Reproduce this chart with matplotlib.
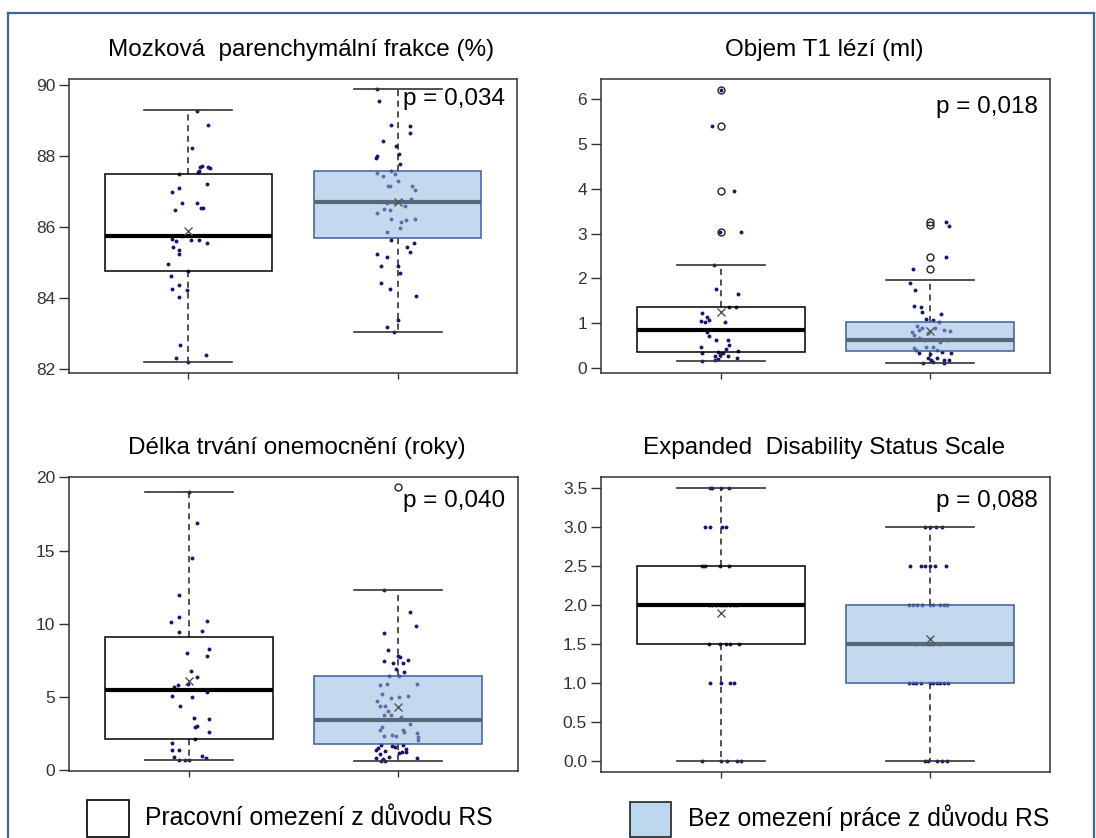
import matplotlib

matplotlib.use("Agg")
import matplotlib.pyplot as plt
from matplotlib.patches import Rectangle
from matplotlib.lines import Line2D

plt.rcParams["font.family"] = ["Liberation Sans", "DejaVu Sans"]

# --- data ------------------------------------------------------------------
titles = [
    "Mozková  parenchymální frakce (%)",
    "Objem T1 lézí (ml)",
    "Délka trvání onemocnění (roky)",
    "Expanded  Disability Status Scale",
]
p_labels = ["p = 0,034", "p = 0,018", "p = 0,040", "p = 0,088"]
legend_labels = ["Pracovní omezení z důvodu RS", "Bez omezení práce z důvodu RS"]

# box statistics: q1, median, q3, whisker low, whisker high, mean
bpf_work_stats = [84.77, 85.75, 87.50, 82.19, 89.30, 85.90]
bpf_free_stats = [85.70, 86.70, 87.58, 83.05, 89.89, 86.70]
t1_work_stats = [0.36, 0.86, 1.36, 0.15, 2.30, 1.24]
t1_free_stats = [0.39, 0.62, 1.03, 0.11, 1.97, 0.83]
dur_work_stats = [2.16, 5.51, 9.11, 0.68, 19.02, 6.08]
dur_free_stats = [1.82, 3.42, 6.42, 0.64, 12.30, 4.33]
edss_work_stats = [1.5, 2.0, 2.5, 0.0, 3.5, 1.90]
edss_free_stats = [1.0, 1.5, 2.0, 0.0, 3.0, 1.56]

t1_work_outliers = [6.21, 5.41, 3.96, 3.03]
t1_free_outliers = [3.27, 3.20, 2.47, 2.22]
dur_free_outliers = [19.36]

bpf_work_vals = [89.28, 88.87, 88.24, 87.73, 87.68, 87.68, 87.65, 87.50, 87.54, 87.59,
                 87.20, 87.09, 87.00, 86.68, 86.68, 86.49, 86.53, 86.53, 85.66, 85.62,
                 85.76, 85.64, 85.64, 85.55, 85.45, 85.36, 85.24, 84.96, 84.77, 84.63,
                 84.37, 84.25, 84.23, 84.02, 82.68, 82.41, 82.30, 82.19]
bpf_work_jit = [0.04, 0.095, 0.017, 0.065, 0.057, 0.095, 0.104, -0.044, 0.044, 0.052,
                0.089, -0.044, -0.077, -0.032, 0.04, -0.064, 0.062, 0.072, -0.079, -0.057,
                -0.028, 0.012, 0.052, 0.087, -0.075, -0.044, -0.044, -0.095, 0.0, -0.084,
                -0.044, -0.077, -0.005, -0.044, -0.039, 0.084, -0.057, 0.0]
bpf_free_vals = [89.89, 89.56, 88.87, 88.84, 88.65, 88.43, 88.29, 88.05, 88.01, 87.95,
                 87.79, 87.59, 87.52, 87.45, 87.50, 87.29, 87.16, 87.15, 87.16, 87.05,
                 86.79, 86.69, 86.69, 86.74, 86.60, 86.51, 86.48, 86.41, 86.23, 86.15,
                 86.20, 86.24, 85.85, 85.96, 85.64, 85.54, 85.44, 85.29, 85.24, 85.17,
                 84.91, 84.91, 84.72, 84.42, 84.25, 84.07, 83.39, 83.19, 83.05]
bpf_free_jit = [-0.1, -0.089, -0.03, 0.057, 0.057, -0.07, -0.008, 0.007, -0.097, -0.102,
                0.012, -0.03, -0.1, -0.072, -0.013, 0.003, -0.047, -0.037, 0.07, 0.084,
                0.062, -0.05, -0.013, 0.023, 0.037, -0.067, -0.039, -0.097, -0.03, 0.015,
                0.04, 0.084, -0.05, 0.013, -0.03, 0.079, 0.045, 0.057, -0.097, -0.05,
                -0.08, 0.003, 0.012, -0.08, -0.039, 0.087, 0.003, -0.05, -0.018]

t1_work_vals = [6.21, 5.41, 3.96, 3.03, 3.03, 2.30, 1.76, 1.65, 1.36, 1.36,
                1.23, 1.15, 1.06, 1.03, 1.08, 1.03, 0.80, 0.71, 0.62, 0.62,
                0.52, 0.47, 0.43, 0.33, 0.36, 0.33, 0.37, 0.30, 0.26, 0.26,
                0.22, 0.19, 0.20, 0.15]
t1_work_jit = [0.003, -0.042, 0.065, -0.005, 0.097, -0.03, -0.022, 0.084, 0.042, 0.074,
               -0.089, -0.064, -0.095, -0.072, -0.055, 0.02, -0.064, -0.055, -0.022, 0.037,
               0.04, -0.094, 0.028, -0.089, -0.013, 0.012, 0.084, -0.005, -0.025, 0.037,
               0.079, -0.027, -0.012, -0.089]
t1_free_vals = [3.27, 3.18, 2.47, 2.22, 1.90, 1.75, 1.39, 1.36, 1.26, 1.21,
                1.09, 1.08, 0.94, 0.89, 1.02, 0.80, 0.74, 0.84, 0.78, 0.89,
                0.86, 0.82, 0.67, 0.65, 0.63, 0.59, 0.62, 0.45, 0.41, 0.48,
                0.47, 0.41, 0.33, 0.32, 0.35, 0.33, 0.22, 0.19, 0.22, 0.17,
                0.19, 0.11, 0.13, 0.11]
t1_free_jit = [0.075, 0.089, 0.072, -0.084, -0.095, -0.074, -0.079, -0.045, -0.04, 0.05,
               -0.02, 0.013, -0.062, -0.04, 0.039, -0.087, -0.079, -0.054, -0.012, 0.022,
               0.064, 0.094, -0.054, -0.045, -0.028, 0.047, 0.08, -0.079, -0.07, -0.02,
               0.013, 0.03, -0.054, -0.003, 0.055, 0.097, -0.012, 0.005, 0.03, 0.064,
               0.089, -0.037, 0.013, 0.064]

dur_work_vals = [19.02, 16.90, 14.46, 11.96, 10.48, 10.14, 10.21, 9.41, 9.50, 8.31,
                 8.02, 7.79, 6.79, 6.38, 5.92, 5.81, 5.69, 5.06, 5.01, 5.35,
                 4.37, 3.60, 3.53, 2.92, 3.01, 2.62, 2.16, 1.89, 1.37, 1.41,
                 0.91, 0.96, 0.87, 0.68, 0.73, 0.68]
dur_work_jit = [0.0, 0.04, 0.017, -0.044, -0.044, -0.085, 0.09, -0.044, 0.062, 0.099,
                -0.007, 0.089, 0.012, 0.04, -0.002, -0.052, -0.069, -0.077, 0.017, 0.09,
                -0.039, 0.028, 0.095, 0.032, 0.04, 0.095, 0.032, -0.079, -0.079, -0.044,
                -0.069, 0.065, 0.085, -0.044, -0.018, 0.0]
dur_free_vals = [12.30, 10.82, 9.84, 9.34, 8.20, 7.79, 7.70, 7.47, 7.33, 7.33,
                 7.56, 6.88, 6.72, 6.42, 6.42, 5.85, 5.92, 5.88, 5.19, 5.06,
                 4.94, 4.97, 4.72, 4.37, 4.37, 4.05, 3.76, 3.76, 3.64, 3.19,
                 2.92, 2.73, 2.73, 2.62, 2.39, 2.32, 2.32, 2.51, 2.28, 2.05,
                 1.71, 1.53, 1.64, 1.59, 1.71, 1.48, 1.37, 1.32, 1.18, 1.25,
                 1.25, 1.09, 0.87, 0.80, 0.91, 0.87, 0.64, 0.64]
dur_free_jit = [-0.067, 0.057, 0.084, -0.067, -0.05, 0.0, 0.007, -0.067, -0.025, 0.02,
                0.045, -0.013, 0.028, -0.047, 0.003, -0.089, -0.055, 0.087, -0.08, 0.045,
                -0.034, 0.003, -0.1, -0.064, -0.089, -0.05, -0.067, -0.034, 0.012, 0.054,
                -0.08, -0.089, 0.02, 0.028, -0.03, -0.067, -0.013, 0.087, 0.095, 0.095,
                -0.084, -0.097, -0.03, -0.017, 0.023, 0.034, -0.106, -0.064, 0.003, 0.017,
                0.037, -0.089, -0.106, -0.072, -0.047, 0.087, -0.084, -0.064]

edss_work_vals = [3.5, 3.5, 3.5, 3.5, 3.0, 3.0, 3.0, 3.0, 2.5, 2.5, 2.5, 2.5,
                  2.0, 2.0, 2.0, 2.0, 2.0, 2.0, 2.0, 2.0, 2.0,
                  1.5, 1.5, 1.5, 1.5, 1.5, 1.0, 1.0, 1.0, 1.0,
                  0.0, 0.0, 0.0, 0.0, 0.0]
edss_work_jit = [-0.052, -0.039, 0.003, 0.042, -0.072, -0.052, 0.007, 0.025,
                 -0.089, -0.075, -0.005, 0.042,
                 -0.055, -0.039, -0.022, -0.005, 0.012, 0.028, 0.045, 0.062, 0.079,
                 -0.055, -0.005, 0.028, 0.045, 0.087, -0.052, 0.003, 0.045, 0.065,
                 -0.089, 0.003, 0.032, 0.079, 0.095]
edss_free_vals = [3.0, 3.0, 3.0, 3.0, 2.5, 2.5, 2.5, 2.5, 2.5, 2.5,
                  2.0, 2.0, 2.0, 2.0, 2.0, 2.0, 2.0, 2.0, 2.0,
                  1.5, 1.5, 1.5, 1.5, 1.5, 1.5,
                  1.0, 1.0, 1.0, 1.0, 1.0, 1.0, 1.0, 1.0, 1.0, 1.0,
                  0.0, 0.0, 0.0, 0.0, 0.0]
edss_free_jit = [-0.028, 0.0, 0.027, 0.055, -0.095, -0.045, -0.028, 0.0, 0.022, 0.072,
                 -0.1, -0.084, -0.062, -0.04, 0.0, 0.013, 0.047, 0.064, 0.077,
                 -0.07, -0.037, -0.012, 0.0, 0.013, 0.039,
                 -0.1, -0.084, -0.07, -0.045, 0.0, 0.013, 0.03, 0.047, 0.064, 0.084,
                 -0.028, -0.012, 0.03, 0.055, 0.08]

y_limits = [(81.89, 90.17), (-0.11, 6.45), (-0.05, 20.02), (-0.14, 3.64)]
y_ticks = [[82, 84, 86, 88, 90], [0, 1, 2, 3, 4, 5, 6], [0, 5, 10, 15, 20],
           [0.0, 0.5, 1.0, 1.5, 2.0, 2.5, 3.0, 3.5]]
y_ticklabels = [None, None, None, ["0.0", "0.5", "1.0", "1.5", "2.0", "2.5", "3.0", "3.5"]]

# --- styling ---------------------------------------------------------------
POINT_COLOR = "#16166e"
FREE_FACE = "#96bae0"  # drawn at alpha 0.55 -> looks like #c5d9ee over white
FREE_EDGE = "#3e5c9c"
FREE_MEDIAN = "#56687a"
AXIS_COLOR = "#333333"


def make_stats(values, label):
    q1, med, q3, lo, hi, mean = values
    return {"q1": q1, "med": med, "q3": q3, "whislo": lo, "whishi": hi,
            "mean": mean, "fliers": [], "label": label}


def draw_panel(ax, work_stats, free_stats, work_pts, free_pts, outliers, idx):
    # raw points first so the blue box sits on top of them
    for pos, (vals, jit) in zip([1, 2], [work_pts, free_pts]):
        ax.plot([pos + j for j in jit], vals, "o", ms=2.8, color=POINT_COLOR,
                mec="none", zorder=2)

    common = dict(
        widths=0.8, capwidths=0.42, showmeans=True, patch_artist=True,
        whiskerprops=dict(color="#222222", lw=1.1, linestyle=(0, (4, 3))),
        capprops=dict(color="#333333", lw=1.2),
        meanprops=dict(marker="x", markersize=6, mec="#555555", mew=1.0),
    )
    b1 = ax.bxp([make_stats(work_stats, "")], positions=[1], **common,
                boxprops=dict(facecolor="none", edgecolor="black", lw=1.1),
                medianprops=dict(color="black", lw=3.0))
    b2 = ax.bxp([make_stats(free_stats, "")], positions=[2], **common,
                boxprops=dict(facecolor=FREE_FACE, edgecolor=FREE_EDGE, lw=1.1),
                medianprops=dict(color=FREE_MEDIAN, lw=3.0))
    b2["boxes"][0].set_facecolor((0x96 / 255, 0xBA / 255, 0xE0 / 255, 0.55))
    for b in (b1, b2):
        for art in b["boxes"]:
            art.set_zorder(3)
        for art in b["medians"] + b["means"]:
            art.set_zorder(4)

    for pos, outs in zip([1, 2], outliers):
        if outs:
            ax.plot([pos] * len(outs), outs, "o", ms=5, mfc="none", mec="#222222",
                    mew=1.0, zorder=5)

    ax.set_xlim(0.43, 2.57)
    ax.set_ylim(*y_limits[idx])
    ax.set_yticks(y_ticks[idx])
    if y_ticklabels[idx] is not None:
        ax.set_yticklabels(y_ticklabels[idx])
    ax.set_xticks([1, 2])
    ax.set_xticklabels(["", ""])
    ax.tick_params(axis="y", length=7, width=1.0, pad=3, labelsize=12.5,
                   colors=AXIS_COLOR)
    ax.tick_params(axis="x", length=4, width=1.0, colors=AXIS_COLOR)
    for spine in ax.spines.values():
        spine.set_color(AXIS_COLOR)
        spine.set_linewidth(1.1)


fig = plt.figure(figsize=(10.96, 8.38), dpi=100)
W, H = 1096, 838

# panel frames in pixel coordinates: left, top, right, bottom
frames = [(69, 79, 517, 373), (601, 79, 1050, 373),
          (69, 477, 518, 771), (601, 477, 1050, 772)]
title_pos = [(301, 50), (824, 50), (297, 448), (824, 448)]
p_pos = [(505, 99), (1038, 107), (505, 501), (1038, 501)]

panels = [
    (bpf_work_stats, bpf_free_stats, (bpf_work_vals, bpf_work_jit),
     (bpf_free_vals, bpf_free_jit), ([], [])),
    (t1_work_stats, t1_free_stats, (t1_work_vals, t1_work_jit),
     (t1_free_vals, t1_free_jit), (t1_work_outliers, t1_free_outliers)),
    (dur_work_stats, dur_free_stats, (dur_work_vals, dur_work_jit),
     (dur_free_vals, dur_free_jit), ([], dur_free_outliers)),
    (edss_work_stats, edss_free_stats, (edss_work_vals, edss_work_jit),
     (edss_free_vals, edss_free_jit), ([], [])),
]

for i, (frame, panel) in enumerate(zip(frames, panels)):
    l, t, r, b = frame
    ax = fig.add_axes([l / W, 1 - b / H, (r - l) / W, (b - t) / H])
    draw_panel(ax, *panel, i)
    tx, ty = title_pos[i]
    fig.text(tx / W, 1 - ty / H, titles[i], ha="center", va="center", fontsize=17.5)
    px, py = p_pos[i]
    fig.text(px / W, 1 - py / H, p_labels[i], ha="right", va="center", fontsize=17.5)

# legend at the bottom
fig.add_artist(Rectangle((87 / W, 1 - 837 / H), 42 / W, 37 / H, transform=fig.transFigure,
                         facecolor="white", edgecolor="black", lw=1.2))
fig.text(145 / W, 1 - 818 / H, legend_labels[0], ha="left", va="center", fontsize=17.8)
fig.add_artist(Rectangle((630 / W, 1 - 837 / H), 41 / W, 35 / H, transform=fig.transFigure,
                         facecolor="#bdd7ee", edgecolor="#222222", lw=1.2))
fig.text(688 / W, 1 - 818 / H, legend_labels[1], ha="left", va="center", fontsize=17.8)

# blue frame around the figure
frame_color = "#4062a8"
fig.add_artist(Line2D([8 / W, 8 / W], [0, 1 - 13 / H], transform=fig.transFigure,
                      color=frame_color, lw=1.6))
fig.add_artist(Line2D([8 / W, 1094 / W], [1 - 13 / H, 1 - 13 / H], transform=fig.transFigure,
                      color=frame_color, lw=1.6))
fig.add_artist(Line2D([1094 / W, 1094 / W], [0, 1 - 13 / H], transform=fig.transFigure,
                      color=frame_color, lw=1.6))

fig.savefig("out.png", dpi=100, facecolor="white")
